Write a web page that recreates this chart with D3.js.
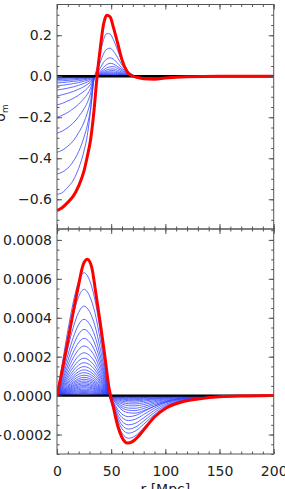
<!DOCTYPE html>
<html>
<head>
<meta charset="utf-8">
<script src="https://cdn.jsdelivr.net/npm/d3@7"></script>
<style>
  html, body { margin: 0; padding: 0; background: #fff; }
  svg { display: block; }
  text { font-family: "DejaVu Sans", sans-serif; }
</style>
</head>
<body>
<div id="chart"></div>
<script>
// radius grid (Mpc) for the upper panel, all curves share it
const R_TOP = [0, 5, 10, 15, 20, 25, 28, 31, 34, 37, 40, 43, 46, 49, 52, 56, 60, 65, 70, 75, 80, 90, 100, 120, 150, 200];

// final profile (red) upper panel
const TOP_RED = [-0.655, -0.64, -0.615, -0.585, -0.535, -0.46, -0.39, -0.31, -0.175, 0.0, 0.14, 0.255, 0.297, 0.29, 0.24, 0.161, 0.08, 0.02, 0.0, -0.006, -0.012, -0.014, -0.008, -0.002, 0, 0];

// earlier profiles (blue) upper panel
const TOP_BLUE = [
  [-0.576, -0.567, -0.541, -0.507, -0.449, -0.363, -0.288, -0.166, -0.02, 0.042, 0.115, 0.179, 0.208, 0.206, 0.179, 0.126, 0.076, 0.029, 0.006, -0.002, -0.004, -0.005, -0.003, -0.001, 0, 0],
  [-0.477, -0.467, -0.448, -0.415, -0.367, -0.296, -0.239, -0.157, -0.019, 0.025, 0.069, 0.110, 0.132, 0.137, 0.123, 0.09, 0.055, 0.022, 0.005, 0, -0.003, -0.003, -0.002, -0.001, 0, 0],
  [-0.371, -0.36, -0.341, -0.315, -0.275, -0.223, -0.178, -0.119, -0.015, 0.014, 0.041, 0.068, 0.084, 0.09, 0.084, 0.063, 0.041, 0.016, 0.005, 0.001, -0.001, -0.002, -0.001, 0, 0, 0],
  [-0.278, -0.267, -0.25, -0.228, -0.197, -0.158, -0.128, -0.083, -0.011, 0.008, 0.025, 0.044, 0.057, 0.063, 0.06, 0.047, 0.032, 0.014, 0.004, 0.001, 0, -0.001, 0, 0, 0, 0],
  [-0.2, -0.19, -0.176, -0.158, -0.136, -0.108, -0.088, -0.058, -0.008, 0.006, 0.018, 0.031, 0.041, 0.046, 0.047, 0.038, 0.026, 0.012, 0.004, 0.001, 0, 0, 0, 0, 0, 0],
  [-0.14, -0.132, -0.12, -0.108, -0.092, -0.073, -0.059, -0.039, -0.006, 0.004, 0.014, 0.024, 0.031, 0.035, 0.036, 0.029, 0.02, 0.009, 0.003, 0.001, 0, 0, 0, 0, 0, 0],
  [-0.096, -0.09, -0.083, -0.074, -0.063, -0.05, -0.04, -0.027, -0.004, 0.003, 0.011, 0.018, 0.024, 0.027, 0.028, 0.022, 0.015, 0.007, 0.003, 0.001, 0, 0, 0, 0, 0, 0],
  [-0.067, -0.063, -0.058, -0.052, -0.044, -0.035, -0.028, -0.019, -0.003, 0.003, 0.008, 0.014, 0.018, 0.021, 0.021, 0.017, 0.012, 0.005, 0.002, 0, 0, 0, 0, 0, 0, 0],
  [-0.047, -0.044, -0.04, -0.036, -0.031, -0.024, -0.02, -0.013, -0.002, 0.002, 0.006, 0.011, 0.014, 0.016, 0.016, 0.013, 0.009, 0.004, 0.001, 0, 0, 0, 0, 0, 0, 0],
  [-0.033, -0.031, -0.028, -0.025, -0.022, -0.017, -0.014, -0.009, -0.001, 0.001, 0.005, 0.008, 0.01, 0.012, 0.012, 0.01, 0.007, 0.003, 0.001, 0, 0, 0, 0, 0, 0, 0],
  [-0.023, -0.022, -0.02, -0.018, -0.015, -0.012, -0.01, -0.006, -0.001, 0.001, 0.003, 0.006, 0.008, 0.009, 0.009, 0.007, 0.005, 0.002, 0.001, 0, 0, 0, 0, 0, 0, 0],
  [-0.016, -0.015, -0.014, -0.012, -0.011, -0.008, -0.007, -0.004, -0.001, 0.001, 0.002, 0.004, 0.005, 0.006, 0.006, 0.005, 0.003, 0.001, 0, 0, 0, 0, 0, 0, 0, 0],
  [-0.011, -0.01, -0.009, -0.008, -0.007, -0.006, -0.005, -0.003, 0, 0, 0.001, 0.003, 0.004, 0.004, 0.004, 0.003, 0.002, 0.001, 0, 0, 0, 0, 0, 0, 0, 0],
  [-0.007, -0.007, -0.006, -0.005, -0.005, -0.004, -0.003, -0.002, 0, 0, 0.001, 0.002, 0.003, 0.003, 0.003, 0.002, 0.001, 0, 0, 0, 0, 0, 0, 0, 0, 0],
  [-0.004, -0.004, -0.004, -0.003, -0.003, -0.002, -0.002, -0.001, 0, 0, 0.001, 0.001, 0.002, 0.002, 0.002, 0.001, 0.001, 0, 0, 0, 0, 0, 0, 0, 0, 0]
];

// lower panel, values in units of 1e-4
const R_BOT = [0, 5, 10, 15, 20, 25, 30, 35, 40, 44, 48, 52, 56, 60, 66, 72, 80, 90, 100, 115, 130, 150, 175, 200];
const R_BOT_RED = [0, 5, 10, 15, 20, 24, 28, 32, 36, 40, 44, 48, 52, 56, 60, 65, 70, 75, 80, 90, 100, 115, 130, 150, 175, 200];
const BOT_RED = [0, 1.35, 2.8, 4.3, 5.7, 6.7, 7.0, 6.6, 5.2, 3.7, 2.1, 0.4, -0.6, -1.55, -2.15, -2.44, -2.35, -2.1, -1.76, -1.1, -0.66, -0.33, -0.18, -0.06, -0.02, 0];

const BOT_BLUE = [
  [0, 1.70, 3.34, 4.80, 5.87, 6.31, 5.93, 4.92, 3.28, 1.77, 0.06, -0.66, -1.42, -1.93, -2.19, -2.08, -1.66, -1.10, -0.66, -0.31, -0.13, -0.04, -0.01, 0],
  [0, 1.47, 2.89, 4.15, 5.08, 5.46, 5.13, 4.26, 2.84, 1.53, 0.05, -0.58, -1.25, -1.70, -1.93, -1.83, -1.47, -0.97, -0.58, -0.27, -0.12, -0.04, -0.01, 0],
  [0, 1.24, 2.44, 3.50, 4.28, 4.60, 4.32, 3.59, 2.39, 1.29, 0.05, -0.52, -1.12, -1.51, -1.72, -1.63, -1.31, -0.86, -0.52, -0.24, -0.10, -0.03, -0.01, 0],
  [0, 1.06, 2.08, 2.98, 3.65, 3.92, 3.68, 3.06, 2.04, 1.10, 0.04, -0.45, -0.98, -1.32, -1.50, -1.43, -1.14, -0.75, -0.45, -0.21, -0.09, -0.03, -0.01, 0],
  [0, 0.92, 1.80, 2.58, 3.16, 3.40, 3.20, 2.65, 1.77, 0.95, 0.03, -0.38, -0.83, -1.13, -1.28, -1.22, -0.97, -0.64, -0.38, -0.18, -0.08, -0.03, -0.01, 0],
  [0, 0.79, 1.56, 2.23, 2.73, 2.94, 2.76, 2.29, 1.53, 0.82, 0.03, -0.32, -0.70, -0.95, -1.08, -1.03, -0.82, -0.54, -0.32, -0.15, -0.06, -0.02, -0.01, 0],
  [0, 0.69, 1.35, 1.94, 2.37, 2.55, 2.40, 1.99, 1.33, 0.71, 0.03, -0.23, -0.52, -0.74, -0.88, -0.90, -0.77, -0.54, -0.34, -0.16, -0.07, -0.02, 0, 0],
  [0, 0.59, 1.17, 1.67, 2.05, 2.20, 2.07, 1.72, 1.14, 0.62, 0.02, -0.19, -0.45, -0.63, -0.75, -0.77, -0.66, -0.46, -0.29, -0.14, -0.06, -0.02, 0, 0],
  [0, 0.52, 1.02, 1.46, 1.79, 1.92, 1.80, 1.50, 1.00, 0.54, 0.02, -0.16, -0.38, -0.53, -0.64, -0.65, -0.56, -0.39, -0.25, -0.12, -0.05, -0.01, 0, 0],
  [0, 0.46, 0.90, 1.28, 1.57, 1.69, 1.59, 1.32, 0.88, 0.47, 0.02, -0.13, -0.31, -0.43, -0.52, -0.53, -0.46, -0.32, -0.20, -0.10, -0.04, -0.01, 0, 0],
  [0, 0.40, 0.79, 1.13, 1.39, 1.49, 1.40, 1.16, 0.77, 0.42, 0.01, -0.11, -0.25, -0.35, -0.42, -0.43, -0.37, -0.26, -0.16, -0.08, -0.03, -0.01, 0, 0],
  [0, 0.36, 0.70, 1.00, 1.23, 1.32, 1.24, 1.03, 0.69, 0.37, 0.01, -0.09, -0.20, -0.28, -0.33, -0.34, -0.29, -0.20, -0.13, -0.06, -0.03, -0.01, 0, 0],
  [0, 0.32, 0.63, 0.90, 1.10, 1.18, 1.11, 0.92, 0.61, 0.33, 0.01, -0.07, -0.16, -0.22, -0.26, -0.27, -0.23, -0.16, -0.10, -0.05, -0.02, -0.01, 0, 0],
  [0, 0.28, 0.56, 0.80, 0.98, 1.05, 0.99, 0.82, 0.55, 0.29, 0.01, -0.05, -0.12, -0.17, -0.21, -0.21, -0.18, -0.13, -0.08, -0.04, -0.02, 0, 0, 0],
  [0, 0.25, 0.50, 0.71, 0.87, 0.94, 0.88, 0.73, 0.49, 0.26, 0.01, -0.04, -0.09, -0.13, -0.16, -0.16, -0.14, -0.10, -0.06, -0.03, -0.01, 0, 0, 0],
  [0, 0.23, 0.45, 0.64, 0.78, 0.84, 0.79, 0.66, 0.44, 0.24, 0.01, -0.03, -0.07, -0.10, -0.12, -0.12, -0.10, -0.07, -0.05, -0.02, -0.01, 0, 0, 0],
  [0, 0.20, 0.40, 0.57, 0.70, 0.75, 0.71, 0.59, 0.39, 0.21, 0.01, -0.02, -0.05, -0.07, -0.09, -0.09, -0.08, -0.05, -0.03, -0.02, -0.01, 0, 0, 0],
  [0, 0.18, 0.36, 0.51, 0.62, 0.67, 0.63, 0.52, 0.35, 0.19, 0.01, -0.02, -0.04, -0.06, -0.07, -0.07, -0.06, -0.04, -0.03, -0.01, -0.01, 0, 0, 0],
  [0, 0.16, 0.32, 0.46, 0.56, 0.60, 0.56, 0.47, 0.31, 0.17, 0.01, -0.01, -0.03, -0.04, -0.05, -0.05, -0.04, -0.03, -0.02, -0.01, 0, 0, 0, 0],
  [0, 0.14, 0.28, 0.40, 0.49, 0.53, 0.50, 0.41, 0.28, 0.15, 0, -0.01, -0.02, -0.03, -0.04, -0.04, -0.03, -0.02, -0.02, -0.01, 0, 0, 0, 0],
  [0, 0.12, 0.24, 0.35, 0.43, 0.46, 0.43, 0.36, 0.24, 0.13, 0, -0.01, -0.02, -0.02, -0.03, -0.03, -0.03, -0.02, -0.01, 0, 0, 0, 0, 0],
  [0, 0.11, 0.21, 0.30, 0.37, 0.40, 0.38, 0.31, 0.21, 0.11, 0, 0, -0.01, -0.02, -0.02, -0.02, -0.02, -0.01, -0.01, 0, 0, 0, 0, 0],
  [0, 0.09, 0.17, 0.25, 0.31, 0.33, 0.31, 0.26, 0.17, 0.09, 0, 0, -0.01, -0.02, -0.02, -0.02, -0.02, -0.01, -0.01, 0, 0, 0, 0, 0],
  [0, 0.07, 0.14, 0.21, 0.25, 0.27, 0.25, 0.21, 0.14, 0.08, 0, 0, -0.01, -0.01, -0.01, -0.01, -0.01, -0.01, 0, 0, 0, 0, 0, 0],
  [0, 0.06, 0.11, 0.16, 0.20, 0.21, 0.20, 0.16, 0.11, 0.06, 0, 0, 0, 0, 0, 0, 0, 0, 0, 0, 0, 0, 0, 0],
  [0, 0.04, 0.08, 0.12, 0.15, 0.16, 0.15, 0.12, 0.08, 0.04, 0, 0, 0, 0, 0, 0, 0, 0, 0, 0, 0, 0, 0, 0],
  [0, 0.03, 0.06, 0.08, 0.10, 0.11, 0.10, 0.09, 0.06, 0.03, 0, 0, 0, 0, 0, 0, 0, 0, 0, 0, 0, 0, 0, 0],
  [0, 0.02, 0.04, 0.05, 0.07, 0.07, 0.07, 0.05, 0.04, 0.02, 0, 0, 0, 0, 0, 0, 0, 0, 0, 0, 0, 0, 0, 0]
];

// ticks and labels
const X_TICKS = [0, 50, 100, 150, 200];
const X_LABELS = ["0", "50", "100", "150", "200"];
const TOP_Y_TICKS = [-0.6, -0.4, -0.2, 0, 0.2];
const TOP_Y_LABELS = ["\u22120.6", "\u22120.4", "\u22120.2", "0.0", "0.2"];
const BOT_Y_TICKS = [-2, 0, 2, 4, 6, 8];
const BOT_Y_LABELS = ["\u22120.0002", "0.0000", "0.0002", "0.0004", "0.0006", "0.0008"];

const width = 285, height = 489;
const left = 57, right = 273.7;
const axisColor = '#555';

const svg = d3.select('#chart').append('svg')
  .attr('width', width)
  .attr('height', height);

const x = d3.scaleLinear().domain([0, 200]).range([left, right]);

const panels = [
  { top: 4.5, bottom: 229, domain: [-0.745, 0.35], ticks: TOP_Y_TICKS, labels: TOP_Y_LABELS,
    minorStep: 0.05, r: R_TOP, rRed: R_TOP, red: TOP_RED, blue: TOP_BLUE, xLabels: false },
  { top: 229, bottom: 454, domain: [-3.0, 8.56], ticks: BOT_Y_TICKS, labels: BOT_Y_LABELS,
    minorStep: 0.5, r: R_BOT, rRed: R_BOT_RED, red: BOT_RED, blue: BOT_BLUE, xLabels: true }
];

const xMinor = d3.range(0, 201, 10);

panels.forEach((p, pi) => {
  const y = d3.scaleLinear().domain(p.domain).range([p.bottom, p.top]);
  const g = svg.append('g');

  const clipId = 'clip' + pi;
  svg.append('clipPath').attr('id', clipId)
    .append('rect')
    .attr('x', left).attr('y', p.top)
    .attr('width', right - left).attr('height', p.bottom - p.top);

  const line = d3.line()
    .x(d => x(d[0]))
    .y(d => y(d[1]))
    .curve(d3.curveMonotoneX);

  const plot = g.append('g').attr('clip-path', `url(#${clipId})`);

  // blue family
  plot.selectAll('.blue')
    .data(p.blue)
    .enter()
    .append('path')
    .attr('class', 'blue')
    .attr('fill', 'none')
    .attr('stroke', '#3344ff')
    .attr('stroke-width', 0.8)
    .attr('d', vals => line(vals.map((v, i) => [p.r[i], v]).filter(d => d[0] !== undefined)));

  // zero profile (black)
  plot.append('path')
    .attr('fill', 'none')
    .attr('stroke', '#000')
    .attr('stroke-width', 2.4)
    .attr('d', line([[0, 0], [200, 0]]));

  // final profile (red)
  plot.append('path')
    .attr('fill', 'none')
    .attr('stroke', '#ff0000')
    .attr('stroke-width', 3)
    .attr('stroke-linejoin', 'round')
    .attr('d', line(p.red.map((v, i) => [p.rRed[i], v])));

  // frame
  g.append('rect')
    .attr('x', left).attr('y', p.top)
    .attr('width', right - left).attr('height', p.bottom - p.top)
    .attr('fill', 'none')
    .attr('stroke', axisColor)
    .attr('stroke-width', 1);

  const yMinor = d3.range(Math.ceil(p.domain[0] / p.minorStep), Math.floor(p.domain[1] / p.minorStep) + 1)
    .map(k => k * p.minorStep);

  function styleAxis(sel) {
    sel.select('.domain').remove();
    sel.selectAll('line').attr('stroke', axisColor);
    sel.selectAll('text')
      .attr('fill', '#222')
      .attr('font-size', '14px')
      .attr('font-family', '"DejaVu Sans", sans-serif');
  }

  // left axis with labels
  g.append('g').attr('transform', `translate(${left},0)`)
    .call(d3.axisLeft(y).tickValues(p.ticks).tickSize(-5).tickPadding(5)
      .tickFormat((d, i) => p.labels[i]))
    .call(styleAxis);
  g.append('g').attr('transform', `translate(${left},0)`)
    .call(d3.axisLeft(y).tickValues(yMinor).tickSize(-2.5).tickFormat(''))
    .call(styleAxis);

  // right axis
  g.append('g').attr('transform', `translate(${right},0)`)
    .call(d3.axisRight(y).tickValues(p.ticks).tickSize(-5).tickFormat(''))
    .call(styleAxis);
  g.append('g').attr('transform', `translate(${right},0)`)
    .call(d3.axisRight(y).tickValues(yMinor).tickSize(-2.5).tickFormat(''))
    .call(styleAxis);

  // top axis
  g.append('g').attr('transform', `translate(0,${p.top})`)
    .call(d3.axisTop(x).tickValues(X_TICKS).tickSize(-5).tickFormat(''))
    .call(styleAxis);
  g.append('g').attr('transform', `translate(0,${p.top})`)
    .call(d3.axisTop(x).tickValues(xMinor).tickSize(-2.5).tickFormat(''))
    .call(styleAxis);

  // bottom axis
  g.append('g').attr('transform', `translate(0,${p.bottom})`)
    .call(d3.axisBottom(x).tickValues(X_TICKS).tickSize(-5).tickPadding(12)
      .tickFormat((d, i) => p.xLabels ? X_LABELS[i] : ''))
    .call(styleAxis);
  g.append('g').attr('transform', `translate(0,${p.bottom})`)
    .call(d3.axisBottom(x).tickValues(xMinor).tickSize(-2.5).tickFormat(''))
    .call(styleAxis);
});

// axis titles
svg.append('text')
  .attr('x', (left + right) / 2)
  .attr('y', 494)
  .attr('text-anchor', 'middle')
  .attr('font-size', '14px')
  .attr('fill', '#222')
  .text('r [Mpc]');

const yTitle = svg.append('text')
  .attr('transform', 'translate(5,113) rotate(-90)')
  .attr('text-anchor', 'middle')
  .attr('font-size', '14px')
  .attr('fill', '#222');
yTitle.append('tspan').text('\u03b4');
yTitle.append('tspan').attr('font-size', '9px').attr('dy', 3).text('m');
</script>
</body>
</html>
